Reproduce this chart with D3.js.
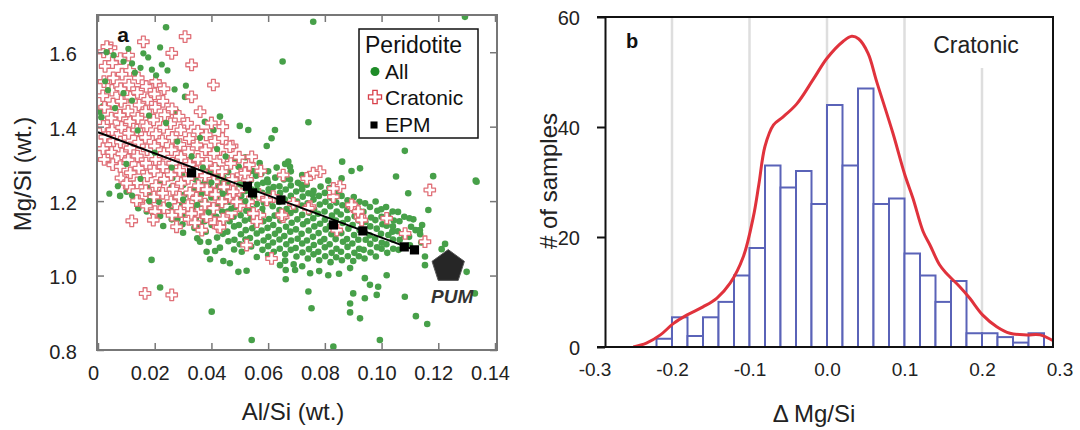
<!DOCTYPE html>
<html>
<head>
<meta charset="utf-8">
<script src="https://cdn.jsdelivr.net/npm/d3@7"></script>
<style>
body { margin: 0; background: #fff; }
text { font-family: "Liberation Sans", Arial, sans-serif; }
</style>
</head>
<body>
<div class="chart"></div>
<script>
// ---------- panel a : Mg/Si vs Al/Si ----------
var alTicks = [0, 0.02, 0.04, 0.06, 0.08, 0.10, 0.12, 0.14];
var alTickLabels = ["0", "0.02", "0.04", "0.06", "0.08", "0.10", "0.12", "0.14"];
var mgTicks = [0.8, 1.0, 1.2, 1.4, 1.6];
var mgTickLabels = ["0.8", "1.0", "1.2", "1.4", "1.6"];

// all peridotites (green dots), main cloud
var allPeridotite = [
  [0.018,1.19],[0.0185,1.213],[0.0175,1.236],
  [0.022,1.172],[0.0215,1.198],[0.0225,1.224],[0.022,1.252],
  [0.026,1.151],[0.0255,1.182],[0.0265,1.207],[0.026,1.238],[0.0262,1.262],
  [0.0298,1.138],[0.0303,1.166],[0.0297,1.192],[0.0305,1.217],[0.03,1.243],[0.0296,1.271],
  [0.034,1.128],[0.0345,1.154],[0.0336,1.181],[0.0342,1.207],[0.0338,1.232],[0.0344,1.258],[0.034,1.284],
  [0.038,1.118],[0.0376,1.146],[0.0384,1.171],[0.0379,1.198],[0.0383,1.224],[0.0377,1.252],[0.0382,1.279],[0.038,1.302],
  [0.042,1.102],[0.0424,1.128],[0.0417,1.158],[0.0423,1.186],[0.0418,1.211],[0.0425,1.238],[0.0421,1.266],[0.0416,1.291],
  [0.046,1.092],[0.0456,1.118],[0.0464,1.146],[0.0458,1.172],[0.0463,1.198],[0.0457,1.226],[0.0462,1.251],[0.0459,1.278],
  [0.05,1.084],[0.0504,1.111],[0.0497,1.136],[0.0503,1.162],[0.0498,1.188],[0.0505,1.214],[0.0499,1.241],[0.0502,1.266],[0.0496,1.292],
  [0.054,1.078],[0.0536,1.101],[0.0544,1.127],[0.0538,1.152],[0.0543,1.178],[0.0537,1.204],[0.0542,1.231],[0.0539,1.256],[0.0545,1.281],
  [0.058,1.069],[0.0584,1.094],[0.0577,1.121],[0.0583,1.146],[0.0578,1.171],[0.0585,1.196],[0.0579,1.222],[0.0582,1.249],[0.0576,1.274],
  [0.062,1.064],[0.0617,1.089],[0.0624,1.112],[0.0618,1.136],[0.0623,1.161],[0.0616,1.186],[0.0622,1.211],[0.0619,1.238],[0.0625,1.263],
  [0.066,1.058],[0.0664,1.084],[0.0657,1.106],[0.0663,1.131],[0.0658,1.156],[0.0665,1.179],[0.0659,1.204],[0.0662,1.231],[0.0656,1.258],
  [0.07,1.051],[0.0697,1.074],[0.0704,1.099],[0.0698,1.124],[0.0703,1.151],[0.0696,1.176],[0.0702,1.199],[0.0699,1.226],[0.0705,1.249],
  [0.074,1.046],[0.0744,1.071],[0.0737,1.094],[0.0743,1.121],[0.0738,1.146],[0.0745,1.169],[0.0739,1.194],[0.0742,1.221],[0.0736,1.244],
  [0.078,1.041],[0.0777,1.064],[0.0784,1.091],[0.0778,1.114],[0.0783,1.139],[0.0776,1.166],[0.0782,1.191],[0.0779,1.214],[0.0785,1.239],
  [0.082,1.036],[0.0824,1.061],[0.0817,1.084],[0.0823,1.111],[0.0818,1.134],[0.0825,1.161],[0.0819,1.186],[0.0822,1.209],[0.0816,1.236],
  [0.086,1.041],[0.0857,1.064],[0.0864,1.091],[0.0858,1.114],[0.0863,1.141],[0.0856,1.164],[0.0862,1.189],[0.0859,1.214],
  [0.09,1.039],[0.0904,1.061],[0.0897,1.086],[0.0903,1.109],[0.0898,1.136],[0.0905,1.159],[0.0899,1.184],[0.0902,1.211],
  [0.094,1.046],[0.0937,1.069],[0.0944,1.096],[0.0938,1.119],[0.0943,1.144],[0.0936,1.171],[0.0942,1.194],
  [0.098,1.051],[0.0984,1.076],[0.0977,1.099],[0.0983,1.126],[0.0978,1.149],[0.0985,1.174],[0.0979,1.199],
  [0.102,1.061],[0.1017,1.084],[0.1024,1.109],[0.1018,1.134],[0.1023,1.161],[0.1016,1.184],
  [0.106,1.069],[0.1064,1.096],[0.1057,1.119],[0.1063,1.146],[0.1058,1.171],
  [0.11,1.081],[0.1097,1.104],[0.1104,1.131],[0.1098,1.154],
  [0.114,1.089],[0.1136,1.111],[0.1143,1.136],
  // in-between dots that close up the band
  [0.028,1.152],[0.032,1.178],[0.036,1.136],[0.04,1.162],[0.044,1.112],[0.048,1.132],[0.052,1.097],[0.056,1.113],
  [0.06,1.079],[0.064,1.097],[0.068,1.069],[0.072,1.086],[0.076,1.057],[0.08,1.076],[0.084,1.049],[0.088,1.077],
  [0.092,1.052],[0.096,1.085],[0.1,1.072],[0.104,1.097],[0.108,1.108],[0.112,1.122],[0.04,1.21],[0.044,1.25],
  [0.048,1.203],[0.052,1.227],[0.056,1.192],[0.06,1.218],[0.064,1.176],[0.068,1.214],[0.072,1.163],[0.076,1.204],
  [0.08,1.15],[0.084,1.196],[0.088,1.152],[0.092,1.174],[0.096,1.132],[0.1,1.158],[0.104,1.132],[0.108,1.158],
  [0.064,1.24],[0.068,1.242],[0.072,1.232],[0.076,1.228],[0.08,1.222],[0.084,1.226],[0.088,1.202],[0.06,1.28],
  [0.0361,1.166],[0.0358,1.192],[0.0363,1.218],[0.0359,1.244],[0.0362,1.27],
  [0.0401,1.136],[0.0398,1.186],[0.0403,1.236],[0.0399,1.278],
  [0.0441,1.138],[0.0438,1.172],[0.0443,1.198],[0.0439,1.224],[0.0442,1.264],
  [0.0481,1.096],[0.0478,1.158],[0.0483,1.184],[0.0479,1.228],[0.0482,1.262],
  [0.0521,1.122],[0.0518,1.148],[0.0523,1.174],[0.0519,1.252],[0.0522,1.276],
  [0.0561,1.088],[0.0558,1.138],[0.0563,1.164],[0.0559,1.214],[0.0562,1.244],[0.0557,1.268],
  [0.0601,1.104],[0.0598,1.128],[0.0603,1.152],[0.0599,1.198],[0.0602,1.232],[0.0597,1.258],
  [0.0641,1.072],[0.0638,1.122],[0.0643,1.148],[0.0639,1.198],[0.0642,1.222],
  [0.0681,1.094],[0.0678,1.118],[0.0683,1.142],[0.0679,1.168],[0.0682,1.192],[0.0677,1.258],
  [0.0721,1.062],[0.0718,1.112],[0.0723,1.138],[0.0719,1.188],[0.0722,1.212],[0.0717,1.244],
  [0.0761,1.082],[0.0758,1.104],[0.0763,1.132],[0.0759,1.154],[0.0762,1.178],[0.0757,1.218],
  [0.0801,1.052],[0.0798,1.098],[0.0803,1.124],[0.0799,1.172],[0.0802,1.198],
  [0.0841,1.072],[0.0838,1.098],[0.0843,1.122],[0.0839,1.148],[0.0842,1.172],[0.0837,1.212],
  [0.0881,1.052],[0.0878,1.098],[0.0883,1.126],[0.0879,1.176],[0.0882,1.196],
  [0.0921,1.072],[0.0918,1.096],[0.0923,1.122],[0.0919,1.148],[0.0922,1.198],
  [0.0961,1.062],[0.0958,1.108],[0.0963,1.156],[0.0959,1.184],
  [0.1001,1.088],[0.0998,1.112],[0.1003,1.138],[0.0999,1.178],
  [0.1041,1.072],[0.1038,1.118],[0.1043,1.148],[0.1039,1.172],
  [0.0759,1.682],[0.1294,1.695],[0.024,1.667],[0.0651,1.575],[0.0742,1.412],[0.1082,1.335],[0.0861,1.306],
  [0.0894,1.281],[0.0924,1.288],[0.1051,1.266],[0.1182,1.267],[0.1332,1.255],[0.0859,1.261],[0.0677,1.292],
  [0.0812,1.255],[0.043,1.427],[0.05,1.402],[0.053,1.391],[0.0624,1.391],[0.0595,1.348],[0.0612,1.369],
  [0.0007,1.44],[0.0012,1.425],[0.0018,1.455],[0.0277,1.44],[0.0307,1.48],[0.0377,1.413],[0.0407,1.391],[0.0671,1.306],
  [0.1094,1.221],[0.1335,1.252],[0.1165,1.176],[0.1112,1.151],[0.1135,1.122],[0.1224,1.085],[0.1212,1.071],
  [0.1153,1.051],[0.1153,1.028],[0.13,1.01],[0.1329,0.952],[0.1082,0.943],[0.1121,0.891],[0.1161,0.87],
  [0.0994,0.827],[0.083,0.809],[0.0924,0.885],[0.0889,0.901],[0.0889,0.925],[0.09,0.952],[0.0941,0.939],
  [0.0753,0.912],[0.0742,0.957],[0.0983,0.948],[0.0988,0.97],[0.0959,0.975],[0.0941,0.993],[0.1018,1.001],
  [0.0889,1.02],[0.0812,1.001],[0.0748,1.006],[0.0695,1.015],
  [0.0078,1.214],[0.0101,1.225],[0.0142,1.181],[0.0172,1.172],[0.0195,1.167],[0.023,1.133],[0.0219,1.16],
  [0.0189,1.042],[0.0219,0.968],[0.0401,0.903],[0.0542,0.827],[0.0383,1.064],[0.0413,1.066],[0.0395,1.044],
  [0.0442,1.039],[0.0465,1.033],[0.0495,1.01],[0.0524,1.013],[0.0507,1.064],[0.0642,1.028],[0.0662,1.015],
  [0.0662,0.99],[0.036,1.091],[0.035,1.1],[0.039,1.09],[0.043,1.075],[0.048,1.07],[0.03,1.115],[0.056,1.05],
  [0.06,1.055],[0.069,1.03],[0.072,1.025],[0.066,1.04],[0.078,1.012],[0.085,1.005],
  [0.048,1.31],[0.052,1.318],[0.057,1.302],[0.063,1.29],[0.068,1.28],[0.072,1.27],[0.066,1.3]
];

// green dots that show on top of the cratonic crosses
var allOnTop = [
  [0.0107,1.609],[0.016,1.597],[0.0219,1.613],[0.0177,1.586],[0.012,1.57],[0.015,1.558],[0.019,1.553],
  [0.0225,1.567],[0.013,1.545],[0.009,1.575],[0.0205,1.538],[0.0245,1.551],[0.0055,1.592],[0.003,1.6],
  [0.0025,1.522],[0.0035,1.498],[0.009,1.49],[0.012,1.47],[0.006,1.45],[0.018,1.43],[0.024,1.41],
  [0.014,1.39],[0.028,1.36],[0.02,1.33],[0.033,1.32],[0.01,1.3],[0.037,1.29],[0.026,1.29],[0.015,1.26],
  [0.007,1.24],[0.004,1.22],[0.03,1.205],[0.012,1.215],[0.027,1.5],[0.031,1.51],[0.036,1.37],[0.042,1.34],
  [0.045,1.32],[0.04,1.25],[0.044,1.22],[0.05,1.245],[0.047,1.18],[0.052,1.2],[0.056,1.23],[0.06,1.25],
  [0.058,1.18],[0.035,1.19],[0.039,1.17],[0.025,1.19],[0.018,1.2]
];

// cratonic peridotites (red crosses)
var cratonic = [
  [0.0022,1.312],[0.0018,1.341],[0.0024,1.372],[0.0019,1.401],[0.0023,1.452],[0.0017,1.483],[0.0021,1.521],[0.0025,1.562],[0.002,1.601],
  [0.0052,1.298],[0.0048,1.331],[0.0055,1.362],[0.005,1.392],[0.0047,1.423],[0.0053,1.461],[0.0049,1.498],[0.0054,1.531],[0.0051,1.572],[0.0046,1.612],
  [0.0081,1.262],[0.0078,1.293],[0.0084,1.327],[0.0079,1.359],[0.0083,1.398],[0.0077,1.431],[0.0082,1.468],[0.008,1.502],[0.0085,1.541],[0.0079,1.583],
  [0.011,1.238],[0.0114,1.276],[0.0107,1.311],[0.0113,1.343],[0.0108,1.382],[0.0112,1.414],[0.0106,1.442],[0.0115,1.479],[0.0109,1.512],[0.0112,1.551],[0.0108,1.592],
  [0.0142,1.201],[0.0138,1.249],[0.0144,1.288],[0.0139,1.321],[0.0143,1.358],[0.0137,1.391],[0.0141,1.423],[0.0145,1.458],[0.0139,1.492],[0.0142,1.531],
  [0.0171,1.187],[0.0168,1.228],[0.0174,1.268],[0.0169,1.302],[0.0173,1.338],[0.0167,1.371],[0.0172,1.402],[0.0168,1.441],[0.0175,1.473],[0.017,1.508],
  [0.0201,1.172],[0.0197,1.211],[0.0204,1.242],[0.0198,1.281],[0.0203,1.312],[0.0199,1.348],[0.0205,1.381],[0.0196,1.418],[0.0202,1.452],[0.0199,1.488],[0.0203,1.521],
  [0.0232,1.182],[0.0228,1.221],[0.0234,1.259],[0.0229,1.292],[0.0233,1.328],[0.0227,1.362],[0.0231,1.398],[0.0235,1.432],[0.0229,1.468],[0.0233,1.502],
  [0.0261,1.162],[0.0257,1.198],[0.0264,1.232],[0.0258,1.271],[0.0263,1.302],[0.0259,1.338],[0.0262,1.371],[0.0256,1.408],[0.0261,1.448],
  [0.0291,1.172],[0.0287,1.211],[0.0294,1.248],[0.0288,1.282],[0.0293,1.318],[0.0289,1.352],[0.0292,1.391],[0.0286,1.428],
  [0.0321,1.151],[0.0317,1.188],[0.0324,1.222],[0.0318,1.261],[0.0323,1.298],[0.0319,1.332],[0.0322,1.368],[0.0316,1.409],
  [0.0351,1.171],[0.0347,1.208],[0.0354,1.241],[0.0348,1.279],[0.0353,1.312],[0.0349,1.351],[0.0352,1.388],
  [0.0381,1.158],[0.0377,1.192],[0.0384,1.231],[0.0378,1.268],[0.0383,1.302],[0.0379,1.338],[0.0382,1.378],
  [0.0411,1.142],[0.0407,1.181],[0.0414,1.218],[0.0408,1.252],[0.0413,1.288],[0.0409,1.328],[0.0412,1.361],
  [0.0441,1.152],[0.0437,1.198],[0.0444,1.238],[0.0438,1.279],[0.0443,1.318],[0.0439,1.368],
  [0.0471,1.168],[0.0467,1.212],[0.0474,1.258],[0.0468,1.301],[0.0473,1.348],
  [0.0501,1.188],[0.0497,1.228],[0.0504,1.271],[0.0498,1.318],
  [0.0531,1.198],[0.0527,1.258],[0.0534,1.298],
  [0.0571,1.162],[0.0567,1.218],[0.0574,1.281],
  [0.016,1.628],[0.0307,1.642],[0.026,1.597],[0.033,1.566],[0.0407,1.512],[0.033,1.48],[0.0031,1.615],
  [0.0119,1.147],[0.0195,1.149],[0.0277,1.131],[0.033,1.167],[0.0383,1.158],[0.0424,1.131],[0.0524,1.082],
  [0.0612,1.046],[0.0166,0.952],[0.026,0.948],[0.1083,1.113],[0.1153,1.091],[0.117,1.23],[0.1018,1.154],
  [0.0853,1.239],[0.0783,1.279],[0.0759,1.275],[0.0653,1.27],[0.0653,1.158],[0.056,1.145],[0.0518,1.275],
  [0.0542,1.319],[0.0465,1.346],[0.09,1.185],[0.0924,1.158],[0.083,1.212],[0.0748,1.185],[0.0689,1.194],
  [0.0618,1.212],[0.0595,1.203],[0.0548,1.167],[0.0489,1.198],[0.0477,1.225],[0.083,1.234],[0.0742,1.181],
  [0.0894,1.19],[0.0918,1.172],[0.093,1.149],[0.0842,1.122],[0.0736,1.261],[0.0101,1.248],[0.0136,1.201],
  [0.0342,1.142],[0.0366,1.122],[0.043,1.13],[0.0648,1.163],[0.036,1.44],[0.04,1.41],[0.044,1.4]
];

// EPM model points and fit line
var epmAl = [0.033, 0.0527, 0.0545, 0.0645, 0.083, 0.0934, 0.108, 0.1116];
var epmMg = [1.276, 1.24, 1.222, 1.203, 1.136, 1.12, 1.077, 1.069];
var fitAl = [0, 0.1116];
var fitMg = [1.385, 1.069];
var pumAl = 0.1235, pumMg = 1.024;

// ---------- panel b : histogram of delta Mg/Si ----------
var binStart = [-0.22, -0.20, -0.18, -0.16, -0.14, -0.12, -0.10, -0.08, -0.06, -0.04, -0.02, 0.00, 0.02,
                0.04, 0.06, 0.08, 0.10, 0.12, 0.14, 0.16, 0.18, 0.20, 0.22, 0.24, 0.26];
var binCount = [1.5, 5.4, 2, 5.4, 8.2, 13, 18, 33, 29, 32, 26, 44, 33,
                47, 26, 27, 17, 13, 8.2, 12, 2.5, 2.5, 1.8, 0.8, 2.5];
var binWidth = 0.02;
var kdeX = [-0.25, -0.233, -0.215, -0.198, -0.181, -0.16, -0.142, -0.125, -0.108, -0.095, -0.088, -0.08,
            -0.069, -0.057, -0.039, -0.018, 0, 0.021, 0.032, 0.041, 0.053, 0.064, 0.085, 0.1, 0.111,
            0.124, 0.133, 0.145, 0.154, 0.171, 0.184, 0.201, 0.219, 0.236, 0.258, 0.275, 0.3];
var kdeY = [0, 0.7, 2.2, 4.3, 5.8, 7.3, 8.9, 11.6, 16.4, 23.7, 29.5, 36.5,
            40.4, 41.8, 44.2, 48.6, 52.5, 55.6, 56.5, 56, 53.4, 48.3, 38.9, 31.5, 27,
            21, 18.5, 15, 13.4, 11, 8.9, 5.8, 3.7, 2.5, 2.2, 2.2, 0.5];
var dTicks = [-0.3, -0.2, -0.1, 0, 0.1, 0.2, 0.3];
var dTickLabels = ["-0.3", "-0.2", "-0.1", "0.0", "0.1", "0.2", "0.3"];
var gridTicks = [-0.2, -0.1, 0, 0.1, 0.2];
var nTicks = [0, 20, 40, 60];

var svg = d3.select(".chart").append("svg")
    .attr("width", 1080)
    .attr("height", 430);

// ================= panel a =================
var ax = d3.scaleLinear().domain([0, 0.14]).range([98, 495]);
var ay = d3.scaleLinear().domain([0.8, 1.7]).range([350, 15]);

svg.append("clipPath").attr("id", "clipA")
  .append("rect").attr("x", 97).attr("y", 15).attr("width", 400).attr("height", 335);

var plotA = svg.append("g").attr("clip-path", "url(#clipA)");

plotA.selectAll("circle.all")
    .data(allPeridotite)
    .enter().append("circle")
    .attr("class", "all")
    .attr("cx", function(d) { return ax(d[0]); })
    .attr("cy", function(d) { return ay(d[1]); })
    .attr("r", 3.3)
    .attr("fill", "#47a049");

var cross = d3.symbol().type(d3.symbolCross).size(72);
plotA.selectAll("path.crat")
    .data(cratonic)
    .enter().append("path")
    .attr("class", "crat")
    .attr("d", cross)
    .attr("transform", function(d) { return "translate(" + ax(d[0]) + "," + ay(d[1]) + ")"; })
    .attr("fill", "#fff")
    .attr("stroke", "#e07078")
    .attr("stroke-width", 1.3)
    .attr("stroke-linejoin", "round");

plotA.selectAll("circle.top")
    .data(allOnTop)
    .enter().append("circle")
    .attr("class", "top")
    .attr("cx", function(d) { return ax(d[0]); })
    .attr("cy", function(d) { return ay(d[1]); })
    .attr("r", 3.1)
    .attr("fill", "#47a049");

// fit line + EPM squares
plotA.append("line")
    .attr("x1", ax(fitAl[0])).attr("y1", ay(fitMg[0]))
    .attr("x2", ax(fitAl[1])).attr("y2", ay(fitMg[1]))
    .attr("stroke", "#000").attr("stroke-width", 2);

var square = d3.symbol().type(d3.symbolSquare).size(85);
plotA.selectAll("path.epm")
    .data(epmAl)
    .enter().append("path")
    .attr("class", "epm")
    .attr("d", square)
    .attr("transform", function(d, i) { return "translate(" + ax(d) + "," + ay(epmMg[i]) + ")"; })
    .attr("fill", "#000");

// PUM pentagon
var pcx = ax(pumAl), pcy = ay(pumMg), pr = 17;
var pent = d3.range(5).map(function(i) {
  var a = (-90 + 72 * i) * Math.PI / 180;
  return [pcx + pr * Math.cos(a), pcy + pr * Math.sin(a)];
});
plotA.append("path")
    .attr("d", d3.line()(pent) + "Z")
    .attr("fill", "#262626")
    .attr("stroke", "#555")
    .attr("stroke-width", 1)
    .attr("stroke-linejoin", "round");
plotA.append("text")
    .attr("x", pcx + 4).attr("y", 303)
    .attr("text-anchor", "middle")
    .attr("font-size", 19).attr("font-weight", "bold").attr("font-style", "italic")
    .attr("fill", "#333")
    .text("PUM");

// axes of panel a (ticks point inward)
function styleAxis(g, size) {
  g.select(".domain").remove();
  g.selectAll(".tick line").attr("stroke", "#777").attr("stroke-width", 1.5);
  g.attr("font-size", size).attr("font-family", "'Liberation Sans', Arial, sans-serif");
  g.selectAll(".tick text").attr("fill", "#222");
}

svg.append("g").attr("transform", "translate(0,350)")
    .call(d3.axisBottom(ax).tickValues(alTicks)
      .tickFormat(function(d, i) { return alTickLabels[i]; })
      .tickSize(-7).tickPadding(16))
    .call(styleAxis, 20)
    .selectAll(".tick text").attr("dx", -5);

svg.append("g").attr("transform", "translate(0,15)")
    .call(d3.axisTop(ax).tickValues(alTicks).tickFormat("").tickSize(-7))
    .call(styleAxis, 20);

svg.append("g").attr("transform", "translate(97,0)")
    .call(d3.axisLeft(ay).tickValues(mgTicks)
      .tickFormat(function(d, i) { return mgTickLabels[i]; })
      .tickSize(-7).tickPadding(20))
    .call(styleAxis, 20)
    .selectAll(".tick text").attr("dy", "0.42em");

svg.append("g").attr("transform", "translate(497,0)")
    .call(d3.axisRight(ay).tickValues(mgTicks).tickFormat("").tickSize(-7))
    .call(styleAxis, 20);

svg.append("rect")
    .attr("x", 97).attr("y", 15).attr("width", 400).attr("height", 335)
    .attr("fill", "none").attr("stroke", "#777").attr("stroke-width", 2);

svg.append("text")
    .attr("x", 123).attr("y", 42)
    .attr("text-anchor", "middle")
    .attr("font-size", 21).attr("font-weight", "bold").attr("fill", "#111")
    .text("a");

svg.append("text")
    .attr("transform", "translate(31,174) rotate(-90)")
    .attr("text-anchor", "middle")
    .attr("font-size", 24).attr("fill", "#222")
    .text("Mg/Si (wt.)");

svg.append("text")
    .attr("x", 293).attr("y", 420)
    .attr("text-anchor", "middle")
    .attr("font-size", 24).attr("fill", "#222")
    .text("Al/Si (wt.)");

// legend
var leg = svg.append("g");
leg.append("rect")
    .attr("x", 359).attr("y", 29).attr("width", 119).attr("height", 109)
    .attr("fill", "#fff").attr("stroke", "#111").attr("stroke-width", 1.5);
leg.append("text").attr("x", 365).attr("y", 53)
    .attr("font-size", 23).attr("fill", "#111").text("Peridotite");
leg.append("circle").attr("cx", 375).attr("cy", 71.5).attr("r", 4.5).attr("fill", "#1e8c28");
leg.append("text").attr("x", 385).attr("y", 79)
    .attr("font-size", 21).attr("fill", "#111").text("All");
leg.append("path").attr("d", d3.symbol().type(d3.symbolCross).size(95))
    .attr("transform", "translate(375,97)")
    .attr("fill", "#fff").attr("stroke", "#d8404a").attr("stroke-width", 1.3);
leg.append("text").attr("x", 385).attr("y", 105)
    .attr("font-size", 21).attr("fill", "#111").text("Cratonic");
leg.append("path").attr("d", d3.symbol().type(d3.symbolSquare).size(50))
    .attr("transform", "translate(374,125)")
    .attr("fill", "#000");
leg.append("text").attr("x", 385).attr("y", 132)
    .attr("font-size", 21).attr("fill", "#111").text("EPM");

// ================= panel b =================
var bx = d3.scaleLinear().domain([-0.3, 0.3]).range([594.5, 1059.5]);
var by = d3.scaleLinear().domain([0, 60]).range([347, 17]);

svg.selectAll("line.grid")
    .data(gridTicks)
    .enter().append("line")
    .attr("class", "grid")
    .attr("x1", function(d) { return bx(d); })
    .attr("x2", function(d) { return bx(d); })
    .attr("y1", 17).attr("y2", 347)
    .attr("stroke", "#dedede").attr("stroke-width", 2.5);

// white box behind the "Cratonic" label
svg.append("rect")
    .attr("x", 925).attr("y", 18).attr("width", 126).attr("height", 50)
    .attr("fill", "#fff");

svg.selectAll("rect.bar")
    .data(binStart)
    .enter().append("rect")
    .attr("class", "bar")
    .attr("x", function(d) { return bx(d); })
    .attr("width", function(d) { return bx(d + binWidth) - bx(d); })
    .attr("y", function(d, i) { return by(binCount[i]); })
    .attr("height", function(d, i) { return by(0) - by(binCount[i]); })
    .attr("fill", "#fff")
    .attr("stroke", "#5a63b8")
    .attr("stroke-width", 2);

svg.append("clipPath").attr("id", "clipB")
  .append("rect").attr("x", 605).attr("y", 17).attr("width", 448).attr("height", 330);

var kde = d3.line()
    .x(function(d) { return bx(d); })
    .y(function(d, i) { return by(kdeY[i]); })
    .curve(d3.curveCatmullRom);

svg.append("path")
    .attr("clip-path", "url(#clipB)")
    .attr("d", kde(kdeX))
    .attr("fill", "none")
    .attr("stroke", "#e0323c")
    .attr("stroke-width", 3);

// axes and frame of panel b
svg.append("g").attr("transform", "translate(605,0)")
    .call(d3.axisLeft(by).tickValues(nTicks).tickSize(8).tickSizeOuter(0).tickPadding(17))
    .call(function(g) {
      g.select(".domain").attr("stroke", "#111").attr("stroke-width", 2);
      g.selectAll(".tick line").attr("stroke", "#111").attr("stroke-width", 2);
      g.attr("font-size", 20).attr("font-family", "'Liberation Sans', Arial, sans-serif");
      g.selectAll(".tick text").attr("fill", "#222").attr("dy", "0.36em");
    });

svg.append("g").attr("transform", "translate(0,347)")
    .call(d3.axisBottom(bx).tickValues(dTicks)
      .tickFormat(function(d, i) { return dTickLabels[i]; })
      .tickSize(0).tickPadding(16))
    .call(function(g) {
      g.select(".domain").remove();
      g.attr("font-size", 19).attr("font-family", "'Liberation Sans', Arial, sans-serif");
      g.selectAll(".tick text").attr("fill", "#222");
    });

svg.append("path")
    .attr("d", "M597,347H1053V17H597")
    .attr("fill", "none").attr("stroke", "#111").attr("stroke-width", 2);

svg.append("text")
    .attr("x", 632).attr("y", 48)
    .attr("text-anchor", "middle")
    .attr("font-size", 20).attr("font-weight", "bold").attr("fill", "#111")
    .text("b");

svg.append("text")
    .attr("x", 976).attr("y", 53)
    .attr("text-anchor", "middle")
    .attr("font-size", 23).attr("fill", "#222")
    .text("Cratonic");

svg.append("text")
    .attr("transform", "translate(557,181) rotate(-90)")
    .attr("text-anchor", "middle")
    .attr("font-size", 24).attr("fill", "#222")
    .text("# of samples");

svg.append("text")
    .attr("x", 814).attr("y", 422)
    .attr("text-anchor", "middle")
    .attr("font-size", 24).attr("fill", "#222")
    .text("\u0394 Mg/Si");
</script>
</body>
</html>
